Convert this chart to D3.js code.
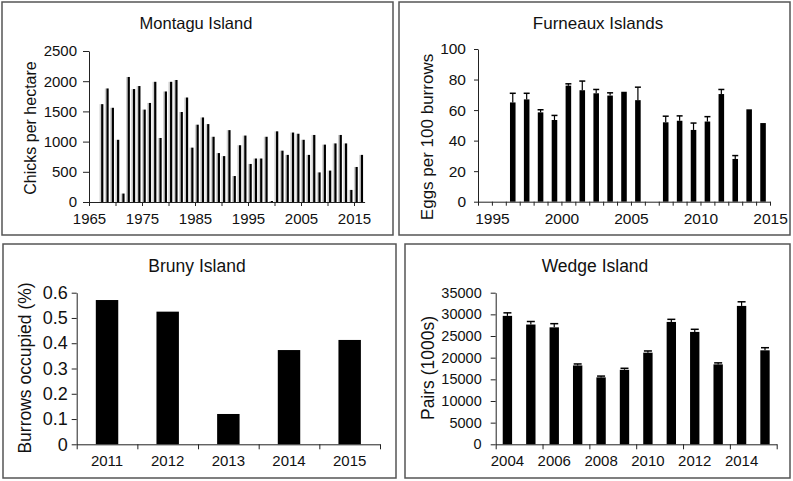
<!DOCTYPE html>
<html>
<head>
<meta charset="utf-8">
<script src="https://cdn.jsdelivr.net/npm/d3@7"></script>
<style>
  body { margin: 0; background: #fff; }
  text { font-family: "Liberation Sans", Arial, sans-serif; fill: #111; }
</style>
</head>
<body>
<script>
  // ---- data ----
  var montaguYears = [1965, 1966, 1967, 1968, 1969, 1970, 1971, 1972, 1973, 1974,
    1975, 1976, 1977, 1978, 1979, 1980, 1981, 1982, 1983, 1984,
    1985, 1986, 1987, 1988, 1989, 1990, 1991, 1992, 1993, 1994,
    1995, 1996, 1997, 1998, 1999, 2000, 2001, 2002, 2003, 2004,
    2005, 2006, 2007, 2008, 2009, 2010, 2011, 2012, 2013, 2014,
    2015, 2016];
  var montaguChicks = [null, null, 1620, 1880, 1560, 1030, 140, 2070, 1870, 1920,
    1530, 1640, 1990, 1060, 1830, 1990, 2020, 1490, 1730, 900,
    1280, 1400, 1290, 1080, 810, 760, 1190, 430, 940, 1100,
    630, 720, 720, 1080, 0, 1170, 850, 780, 1150, 1130,
    1030, 780, 1110, 490, 950, 520, 970, 1110, 970, 200,
    580, 780];
  var montaguTicks = [0, 500, 1000, 1500, 2000, 2500];

  var furneauxYears = [1995, 1996, 1997, 1998, 1999, 2000, 2001, 2002, 2003, 2004,
    2005, 2006, 2007, 2008, 2009, 2010, 2011, 2012, 2013, 2014, 2015];
  var furneauxEggs = [null, null, 65, 67, 58.5, 53.5, 76, 73, 71, 69.5,
    72, 66.5, null, 52, 53, 47, 52.5, 70.5, 28, 60.5, 51.5];
  var furneauxErr = [0, 0, 6, 4, 1.7, 3, 1.2, 6, 2.5, 1.8,
    0, 8.5, 0, 4, 3.2, 4.5, 3.2, 3, 2.2, 0, 0];
  var furneauxTicks = [0, 20, 40, 60, 80, 100];

  var brunyYears = [2011, 2012, 2013, 2014, 2015];
  var brunyOccupied = [0.571, 0.525, 0.12, 0.373, 0.413];
  var brunyTicks = [0, 0.1, 0.2, 0.3, 0.4, 0.5, 0.6];

  var wedgeYears = [2004, 2005, 2006, 2007, 2008, 2009, 2010, 2011, 2012, 2013, 2014, 2015];
  var wedgePairs = [29650, 27650, 27000, 18200, 15450, 17200, 21150, 28250, 25950, 18450, 31950, 21700];
  var wedgeErr = [700, 700, 850, 350, 300, 350, 400, 600, 600, 350, 950, 600];
  var wedgeTicks = [0, 5000, 10000, 15000, 20000, 25000, 30000, 35000];

  // ---- svg ----
  var svg = d3.select("body").append("svg")
    .attr("width", 793)
    .attr("height", 481);

  function frame(x, y, w, h) {
    svg.append("rect")
      .attr("x", x).attr("y", y)
      .attr("width", w).attr("height", h)
      .style("fill", "none")
      .style("stroke", "#555")
      .style("stroke-width", 1.5);
  }

  function styleAxis(g, size) {
    g.selectAll("path, line").style("stroke", "#222").style("stroke-width", 1);
    g.selectAll("text").style("font-size", size + "px").style("fill", "#111")
      .style("font-family", "'Liberation Sans', Arial, sans-serif");
  }

  function title(x, y, txt, size) {
    svg.append("text")
      .attr("x", x).attr("y", y)
      .attr("text-anchor", "middle")
      .style("font-size", size + "px")
      .text(txt);
  }

  function yTitle(x, y, txt, size) {
    svg.append("text")
      .attr("transform", "translate(" + x + "," + y + ") rotate(-90)")
      .attr("text-anchor", "middle")
      .attr("dy", "0.35em")
      .style("font-size", size + "px")
      .text(txt);
  }

  function zip(keys, vals, errs) {
    return keys.map(function(k, i) {
      return { year: k, value: vals[i], err: errs ? errs[i] : 0 };
    }).filter(function(d) { return d.value !== null; });
  }

  var plain = d3.format("d");

  // ================= Montagu Island =================
  frame(2, 2, 391, 233);
  var mY = d3.scaleLinear().domain([0, 2500]).range([202, 51]);
  var mX = d3.scaleBand().domain(montaguYears).range([89, 364.6])
    .paddingInner(0.58).paddingOuter(0.29);
  var mAxisX = d3.scaleLinear().domain([1965, 2017]).range([89, 364.6]);

  var mData = zip(montaguYears, montaguChicks);
  // light grey shading at the left of each bar
  svg.append("g").selectAll("rect").data(mData).enter().append("rect")
    .attr("x", function(d) { return mX(d.year) - 1.6; })
    .attr("y", function(d) { return Math.min(mY(d.value), mY(0) - 1); })
    .attr("width", 1.6)
    .attr("height", function(d) { return Math.max(1, mY(0) - mY(d.value)); })
    .style("fill", "#cfcfcf");
  svg.append("g").selectAll("rect").data(mData).enter().append("rect")
    .attr("x", function(d) { return mX(d.year); })
    .attr("y", function(d) { return Math.min(mY(d.value), mY(0) - 1); })
    .attr("width", mX.bandwidth())
    .attr("height", function(d) { return Math.max(1, mY(0) - mY(d.value)); })
    .style("fill", "#000");

  var mgy = svg.append("g").attr("transform", "translate(89,0)")
    .call(d3.axisLeft(mY).tickValues(montaguTicks).tickFormat(plain)
      .tickSize(6).tickPadding(6).tickSizeOuter(0));
  styleAxis(mgy, 15);
  var mgx = svg.append("g").attr("transform", "translate(0,202)")
    .call(d3.axisBottom(mAxisX)
      .tickValues([1965, 1970, 1975, 1980, 1985, 1990, 1995, 2000, 2005, 2010, 2015])
      .tickFormat(function(d) { return (d - 1965) % 10 === 0 ? String(d) : ""; })
      .tickSize(4).tickPadding(7).tickSizeOuter(0));
  styleAxis(mgx, 15);
  title(196, 29, "Montagu Island", 16.5);
  yTitle(30, 128, "Chicks per hectare", 16);

  // ================= Furneaux Islands =================
  frame(399, 2, 391, 233);
  var fY = d3.scaleLinear().domain([0, 100]).range([201.7, 49]);
  var fX = d3.scaleBand().domain(furneauxYears).range([478, 770])
    .paddingInner(0.6).paddingOuter(0.3);
  var fAxisX = d3.scaleLinear().domain([1994, 2015]).range([478, 770]);
  var fData = zip(furneauxYears, furneauxEggs, furneauxErr);

  svg.append("g").selectAll("rect").data(fData).enter().append("rect")
    .attr("x", function(d) { return fX(d.year); })
    .attr("y", function(d) { return fY(d.value); })
    .attr("width", fX.bandwidth())
    .attr("height", function(d) { return fY(0) - fY(d.value); })
    .style("fill", "#000");
  var fErr = svg.append("g").selectAll("g").data(fData.filter(function(d) { return d.err > 0; }))
    .enter().append("g");
  fErr.append("line")
    .attr("x1", function(d) { return fX(d.year) + fX.bandwidth() / 2; })
    .attr("x2", function(d) { return fX(d.year) + fX.bandwidth() / 2; })
    .attr("y1", function(d) { return fY(d.value); })
    .attr("y2", function(d) { return fY(d.value + d.err); })
    .style("stroke", "#000").style("stroke-width", 1.2);
  fErr.append("line")
    .attr("x1", function(d) { return fX(d.year) + fX.bandwidth() / 2 - 3; })
    .attr("x2", function(d) { return fX(d.year) + fX.bandwidth() / 2 + 3; })
    .attr("y1", function(d) { return fY(d.value + d.err); })
    .attr("y2", function(d) { return fY(d.value + d.err); })
    .style("stroke", "#000").style("stroke-width", 1.5);

  var fgy = svg.append("g").attr("transform", "translate(478,0)")
    .call(d3.axisLeft(fY).tickValues(furneauxTicks).tickFormat(plain)
      .tickSize(4).tickPadding(8).tickSizeOuter(0));
  styleAxis(fgy, 15.5);
  var fgx = svg.append("g").attr("transform", "translate(0,201.7)")
    .call(d3.axisBottom(fAxisX).tickValues(d3.range(1994, 2016))
      .tickFormat(function(d) { return d % 5 === 0 ? String(d) : ""; })
      .tickSize(4).tickPadding(7).tickSizeOuter(0));
  styleAxis(fgx, 15.5);
  title(598, 29, "Furneaux Islands", 17);
  yTitle(427, 137, "Eggs per 100 burrows", 17);

  // ================= Bruny Island =================
  frame(3, 244, 393, 234);
  var bY = d3.scaleLinear().domain([0, 0.6]).range([444.3, 292.7]);
  var bX = d3.scaleBand().domain(brunyYears).range([76.7, 380])
    .paddingInner(0.63).paddingOuter(0.315);
  var bIdx = d3.scaleLinear().domain([0, brunyYears.length]).range([76.7, 380]);
  var bData = zip(brunyYears, brunyOccupied);

  svg.append("g").selectAll("rect").data(bData).enter().append("rect")
    .attr("x", function(d) { return bX(d.year); })
    .attr("y", function(d) { return bY(d.value); })
    .attr("width", bX.bandwidth())
    .attr("height", function(d) { return bY(0) - bY(d.value); })
    .style("fill", "#000");

  var bgy = svg.append("g").attr("transform", "translate(76.7,0)")
    .call(d3.axisLeft(bY).tickValues(brunyTicks)
      .tickFormat(function(d) { return d === 0 ? "0" : d3.format(".1f")(d); })
      .tickSize(5).tickPadding(4).tickSizeOuter(0));
  styleAxis(bgy, 18);
  var bgx = svg.append("g").attr("transform", "translate(0,444.3)")
    .call(d3.axisBottom(bIdx).tickValues(d3.range(0, brunyYears.length + 1))
      .tickFormat("").tickSize(5).tickSizeOuter(0));
  styleAxis(bgx, 15);
  var bgl = svg.append("g").attr("transform", "translate(0,444.3)")
    .call(d3.axisBottom(bX).tickSize(0).tickPadding(11));
  bgl.select(".domain").remove();
  styleAxis(bgl, 15);
  title(197, 272, "Bruny Island", 17.5);
  yTitle(25, 368, "Burrows occupied (%)", 17.5);

  // ================= Wedge Island =================
  frame(405, 244, 385, 234);
  var wY = d3.scaleLinear().domain([0, 35000]).range([444.3, 292.7]);
  var wX = d3.scaleBand().domain(wedgeYears).range([495.7, 776.7])
    .paddingInner(0.6).paddingOuter(0.3);
  var wIdx = d3.scaleLinear().domain([0, wedgeYears.length]).range([495.7, 776.7]);
  var wData = zip(wedgeYears, wedgePairs, wedgeErr);

  svg.append("g").selectAll("rect").data(wData).enter().append("rect")
    .attr("x", function(d) { return wX(d.year); })
    .attr("y", function(d) { return wY(d.value); })
    .attr("width", wX.bandwidth())
    .attr("height", function(d) { return wY(0) - wY(d.value); })
    .style("fill", "#000");
  var wErr = svg.append("g").selectAll("g").data(wData).enter().append("g");
  wErr.append("line")
    .attr("x1", function(d) { return wX(d.year) + wX.bandwidth() / 2; })
    .attr("x2", function(d) { return wX(d.year) + wX.bandwidth() / 2; })
    .attr("y1", function(d) { return wY(d.value); })
    .attr("y2", function(d) { return wY(d.value + d.err); })
    .style("stroke", "#000").style("stroke-width", 1.2);
  wErr.append("line")
    .attr("x1", function(d) { return wX(d.year) + wX.bandwidth() / 2 - 4; })
    .attr("x2", function(d) { return wX(d.year) + wX.bandwidth() / 2 + 4; })
    .attr("y1", function(d) { return wY(d.value + d.err); })
    .attr("y2", function(d) { return wY(d.value + d.err); })
    .style("stroke", "#000").style("stroke-width", 1.5);

  var wgy = svg.append("g").attr("transform", "translate(495.7,0)")
    .call(d3.axisLeft(wY).tickValues(wedgeTicks).tickFormat(plain)
      .tickSize(5).tickPadding(9).tickSizeOuter(0));
  styleAxis(wgy, 14.5);
  var wgx = svg.append("g").attr("transform", "translate(0,444.3)")
    .call(d3.axisBottom(wIdx).tickValues(d3.range(0, wedgeYears.length + 1, 2))
      .tickFormat("").tickSize(5).tickSizeOuter(0));
  styleAxis(wgx, 15);
  var wgl = svg.append("g").attr("transform", "translate(0,444.3)")
    .call(d3.axisBottom(wX).tickValues(wedgeYears.filter(function(d) { return d % 2 === 0; }))
      .tickSize(0).tickPadding(11));
  wgl.select(".domain").remove();
  styleAxis(wgl, 15);
  title(595, 272, "Wedge Island", 17.5);
  yTitle(428, 368, "Pairs (1000s)", 17.5);
</script>
</body>
</html>
